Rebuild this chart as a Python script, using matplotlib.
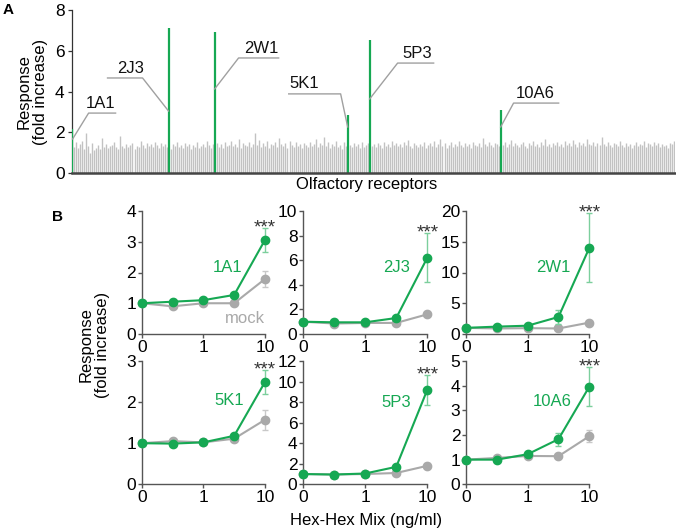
import matplotlib
matplotlib.use('Agg')
import matplotlib.pyplot as plt
import numpy as np

plt.rcParams['font.family'] = ['Liberation Sans', 'DejaVu Sans']

# --- DATA: panel A (screening of ~300 receptors) ---
responses = [
    2.15, 1.30, 1.55, 1.25, 1.45, 1.60, 1.20, 1.95, 1.35, 1.00, 1.50, 1.15, 1.25, 1.40, 1.20, 1.75, 1.30, 1.45, 1.25, 1.35,
    1.40, 1.55, 1.30, 1.20, 1.85, 1.35, 1.25, 1.45, 1.30, 1.40, 1.50, 1.20, 1.35, 1.30, 1.60, 1.40, 1.25, 1.50, 1.35, 1.45,
    1.30, 1.55, 1.40, 1.25, 1.50, 1.35, 1.45, 1.30, 7.10, 1.20, 1.45, 1.35, 1.55, 1.30, 1.40, 1.25, 1.50, 1.35, 1.45, 1.20,
    1.40, 1.30, 1.55, 1.25, 1.35, 1.45, 1.30, 1.60, 1.40, 1.25, 1.45, 6.92, 1.50, 1.30, 1.45, 1.25, 1.55, 1.35, 1.40, 1.60,
    1.35, 1.45, 1.30, 1.70, 1.25, 1.50, 1.40, 1.35, 1.55, 1.30, 1.45, 1.95, 1.40, 1.65, 1.30, 1.50, 1.35, 1.60, 1.25, 1.45,
    1.40, 1.55, 1.30, 1.75, 1.45, 1.35, 1.50, 1.25, 1.60, 1.40, 1.30, 1.55, 1.35, 1.45, 1.25, 1.50, 1.40, 1.30, 1.55, 1.35,
    1.45, 1.70, 1.30, 1.50, 1.40, 1.80, 1.35, 1.55, 1.25, 1.45, 1.35, 1.60, 1.30, 1.40, 1.20, 1.55, 1.35, 2.86, 1.40, 1.30,
    1.50, 1.35, 1.45, 1.25, 1.55, 1.30, 1.40, 1.50, 6.55, 1.35, 1.45, 1.30, 1.50, 1.40, 1.25, 1.55, 1.35, 1.45, 1.30, 1.60,
    1.40, 1.50, 1.35, 1.45, 1.30, 1.55, 1.40, 1.65, 1.35, 1.25, 1.50, 1.40, 1.30, 1.45, 1.35, 1.55, 1.25, 1.40, 1.50, 1.35,
    1.60, 1.30, 1.45, 1.70, 1.35, 1.50, 1.25, 1.40, 1.55, 1.30, 1.45, 1.35, 1.60, 1.40, 1.30, 1.50, 1.35, 1.45, 1.25, 1.55,
    1.40, 1.35, 1.50, 1.30, 1.75, 1.45, 1.35, 1.55, 1.40, 1.30, 1.50, 1.45, 1.35, 3.10, 1.40, 1.55, 1.30, 1.45, 1.65, 1.35,
    1.50, 1.40, 1.30, 1.45, 1.55, 1.35, 1.25, 1.50, 1.40, 1.60, 1.35, 1.45, 1.30, 1.55, 1.40, 1.70, 1.35, 1.45, 1.30, 1.50,
    1.40, 1.55, 1.35, 1.45, 1.30, 1.60, 1.40, 1.50, 1.35, 1.65, 1.45, 1.30, 1.55, 1.40, 1.50, 1.35, 1.70, 1.45, 1.40, 1.55,
    1.35, 1.50, 1.40, 1.80, 1.45, 1.35, 1.55, 1.40, 1.30, 1.50, 1.45, 1.35, 1.60, 1.40, 1.30, 1.50, 1.35, 1.45, 1.25, 1.40,
    1.55, 1.35, 1.45, 1.40, 1.60, 1.30, 1.50, 1.45, 1.35, 1.55, 1.40, 1.50, 1.30, 1.45, 1.35, 1.40, 1.25, 1.50, 1.45, 1.60,
]
hit_names = ['1A1', '2J3', '2W1', '5K1', '5P3', '10A6']
hit_index = [0, 48, 71, 137, 148, 213]

# --- DATA: panel B (dose response) ---
dose_labels = ['0', '1', '10']
or_values = {
    '1A1': [1.00, 1.05, 1.10, 1.27, 3.06],
    '2J3': [1.00, 0.95, 0.95, 1.30, 6.20],
    '2W1': [1.00, 1.20, 1.35, 2.77, 14.0],
    '5K1': [1.00, 0.99, 1.02, 1.18, 2.49],
    '5P3': [1.00, 0.95, 1.05, 1.70, 9.20],
    '10A6': [1.00, 1.00, 1.22, 1.83, 3.96],
}
or_err = {
    '1A1': [0.03, 0.04, 0.04, 0.05, 0.40],
    '2J3': [0.05, 0.05, 0.05, 0.10, 2.00],
    '2W1': [0.10, 0.10, 0.15, 1.20, 5.60],
    '5K1': [0.02, 0.02, 0.02, 0.05, 0.30],
    '5P3': [0.05, 0.05, 0.05, 0.15, 1.45],
    '10A6': [0.03, 0.03, 0.05, 0.27, 0.78],
}
mock_values = {
    '1A1': [1.00, 0.90, 1.00, 1.00, 1.79],
    '2J3': [1.00, 0.85, 0.90, 0.90, 1.60],
    '2W1': [1.00, 0.90, 0.95, 0.90, 1.85],
    '5K1': [1.00, 1.05, 1.02, 1.11, 1.57],
    '5P3': [1.00, 0.95, 1.00, 1.10, 1.80],
    '10A6': [1.00, 1.07, 1.15, 1.14, 1.95],
}
mock_err = {
    '1A1': [0.03, 0.03, 0.03, 0.03, 0.26],
    '2J3': [0.05, 0.05, 0.05, 0.05, 0.15],
    '2W1': [0.05, 0.05, 0.05, 0.05, 0.20],
    '5K1': [0.02, 0.03, 0.02, 0.03, 0.24],
    '5P3': [0.05, 0.05, 0.05, 0.05, 0.25],
    '10A6': [0.03, 0.03, 0.03, 0.03, 0.25],
}
y_max = {'1A1': 4, '2J3': 10, '2W1': 20, '5K1': 3, '5P3': 12, '10A6': 5}
y_step = {'1A1': 1, '2J3': 2, '2W1': 5, '5K1': 1, '5P3': 2, '10A6': 1}

GREEN = '#16a853'
GREEN_LIGHT = '#7ccf9d'
GRAY = '#a9a9a9'
W, H = 676, 530


def px_axes(fig, left, top, right, bottom):
    return fig.add_axes([left / W, 1 - bottom / H, (right - left) / W, (bottom - top) / H])


fig = plt.figure(figsize=(W / 100, H / 100), dpi=100)

# ---------- panel A ----------
ax = px_axes(fig, 71.5, 10, 675, 173.3)
idx = np.arange(len(responses))
is_hit = np.isin(idx, hit_index)
vals = np.array(responses)
ax.vlines(idx[~is_hit], 0, vals[~is_hit], colors='#c2c2c2', linewidth=1.0)
ax.vlines(idx[is_hit], 0, vals[is_hit], colors=GREEN, linewidth=1.6, zorder=3)
ax.set_xlim(-0.3, len(responses) - 0.5)
ax.set_ylim(0, 8)
ax.set_yticks([0, 2, 4, 6, 8])
ax.set_xticks([])
for s in ['top', 'right']:
    ax.spines[s].set_visible(False)
ax.spines['left'].set_color('#333333')
ax.spines['left'].set_linewidth(0.9)
ax.spines['bottom'].set_color('#444444')
ax.spines['bottom'].set_linewidth(1.8)
ax.spines['bottom'].set_zorder(5)
ax.tick_params(axis='y', labelsize=12.5, length=3, width=0.9, color='#333333', pad=2)

# leader lines: (underline start x, underline end x, line y, bar x, bar y, text x)
leaders = {
    '1A1': (21.6, 8.2, 2.95, 0.25, 1.68, 13.9),
    '2J3': (17.6, 35.0, 4.67, 47.9, 3.05, 29.1),
    '2W1': (102.6, 82.7, 5.65, 70.8, 4.13, 94.1),
    '5K1': (107.6, 133.4, 3.89, 136.9, 2.27, 115.5),
    '5P3': (179.6, 161.7, 5.40, 147.8, 3.64, 171.4),
    '10A6': (241.7, 219.3, 3.44, 212.9, 2.27, 229.8),
}
for name, (xa, xb, yl, xbar, ybar, xt) in leaders.items():
    ax.plot([xa, xb, xbar], [yl, yl, ybar], color='#a0a0a0', lw=1.0, zorder=4, clip_on=False)
    ax.text(xt, yl + 0.12, name, ha='center', va='bottom', fontsize=12, color='#111111')

fig.text(32 / W, 1 - 91.5 / H, 'Response\n(fold increase)', rotation=90, ha='center', va='center',
         fontsize=12, linespacing=1.1)
fig.text(366.5 / W, 1 - 185 / H, 'Olfactory receptors', ha='center', va='center', fontsize=12)
fig.text(8 / W, 1 - 10 / H, 'A', ha='center', va='center', fontsize=11, fontweight='bold')

# ---------- panel B ----------
col_x = [(141.7, 265), (303, 427.3), (466, 589.3)]
row_y = [(211, 334), (361, 484.3)]
label_pos = {
    '1A1': (2.77, 2.15), '2J3': (3.0, 5.37), '2W1': (2.82, 10.8),
    '5K1': (2.85, 2.04), '5P3': (3.0, 8.0), '10A6': (2.79, 3.36),
}
x = np.arange(5)
for i, name in enumerate(hit_names):
    r, c = divmod(i, 3)
    a = px_axes(fig, col_x[c][0], row_y[r][0], col_x[c][1], row_y[r][1])
    a.errorbar(x, mock_values[name], yerr=mock_err[name], color=GRAY, lw=1.5, marker='o', ms=6,
               ecolor='#c8c8c8', elinewidth=1, capsize=2.5, capthick=1, clip_on=False, zorder=3)
    a.errorbar(x, or_values[name], yerr=or_err[name], color=GREEN, lw=1.5, marker='o', ms=6,
               ecolor=GREEN_LIGHT, elinewidth=1, capsize=2.5, capthick=1, clip_on=False, zorder=4)
    top = or_values[name][-1] + or_err[name][-1]
    a.annotate('***', (4, top), xytext=(0, 0), textcoords='offset points', ha='center', va='center',
               fontsize=13.5, color='#333333')
    lx, ly = label_pos[name]
    a.text(lx, ly, name, ha='center', va='center', fontsize=12, color=GREEN)
    if name == '1A1':
        a.text(3.36, 0.52, 'mock', ha='center', va='center', fontsize=12, color=GRAY)
    a.set_xlim(0, 4)
    a.set_ylim(0, y_max[name])
    a.set_yticks(np.arange(0, y_max[name] + 0.01, y_step[name]))
    a.set_xticks([0, 2, 4])
    a.set_xticklabels(dose_labels)
    for s in ['top', 'right']:
        a.spines[s].set_visible(False)
    for s in ['left', 'bottom']:
        a.spines[s].set_color('#555555')
        a.spines[s].set_linewidth(1.0)
    a.tick_params(labelsize=12.5, length=3, width=1.0, color='#555555', pad=1)

fig.text(94 / W, 1 - 345 / H, 'Response\n(fold increase)', rotation=90, ha='center', va='center',
         fontsize=12, linespacing=1.1)
fig.text(366 / W, 1 - 520 / H, 'Hex-Hex Mix (ng/ml)', ha='center', va='center', fontsize=12)
fig.text(58 / W, 1 - 217 / H, 'B', ha='center', va='center', fontsize=11, fontweight='bold')

fig.savefig('out.png', dpi=100)
